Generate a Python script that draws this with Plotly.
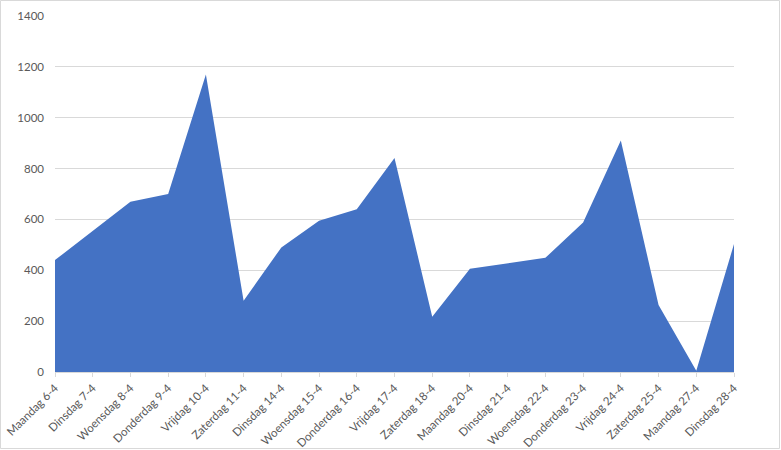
import plotly.graph_objects as go

categories = ["Maandag 6-4", "Dinsdag 7-4", "Woensdag 8-4", "Donderdag 9-4", "Vrijdag 10-4",
              "Zaterdag 11-4", "Dinsdag 14-4", "Woensdag 15-4", "Donderdag 16-4", "Vrijdag 17-4",
              "Zaterdag 18-4", "Maandag 20-4", "Dinsdag 21-4", "Woensdag 22-4", "Donderdag 23-4",
              "Vrijdag 24-4", "Zaterdag 25-4", "Maandag 27-4", "Dinsdag 28-4"]
values = [440, 555, 670, 700, 1170, 280, 490, 595, 640, 842, 217, 406, 428, 449, 588,
          910, 263, 5, 503]
y_ticks = [0, 200, 400, 600, 800, 1000, 1200, 1400]

W, H = 781, 450
ML, MR, MT, MB = 55, 47, 16, 78

fig = go.Figure()
fig.add_trace(go.Scatter(
    x=categories, y=values, mode="lines", fill="tozeroy",
    fillcolor="#4472C4", line=dict(color="#4472C4", width=0),
    hoverinfo="x+y", showlegend=False))

pw = W - ML - MR
ph = H - MT - MB
fig.add_shape(type="rect", xref="paper", yref="paper",
              x0=-(ML - 0.5) / pw, x1=1 + (MR - 1.5) / pw,
              y0=-(MB - 1.5) / ph, y1=1 + (MT - 0.5) / ph,
              line=dict(color="#d9d9d9", width=1), layer="below")

fig.update_layout(
    width=W, height=H,
    margin=dict(l=ML, r=MR, t=MT, b=MB, autoexpand=False),
    paper_bgcolor="white", plot_bgcolor="white",
    font=dict(family="Lato, 'Open Sans', sans-serif", size=12, color="#595959"),
    xaxis=dict(
        type="category", range=[0, len(categories) - 1], automargin=False,
        tickangle=-45, tickfont=dict(size=11.5, color="#595959"),
        showgrid=False, showline=True, linecolor="#d9d9d9", linewidth=1,
        ticks="outside", ticklen=4, tickcolor="#d9d9d9",
        tickmode="array", tickvals=categories, ticktext=categories),
    yaxis=dict(
        range=[0, 1400], tickvals=y_ticks, automargin=False,
        showgrid=True, gridcolor="#d9d9d9", gridwidth=1,
        zeroline=False, showline=False, ticks="", ticklabelstandoff=10,
        tickfont=dict(size=11.5, color="#595959")),
)

fig.write_html("out.html", config={"displayModeBar": False},
               post_script="document.body.style.margin='0';document.body.style.overflow='hidden';")
